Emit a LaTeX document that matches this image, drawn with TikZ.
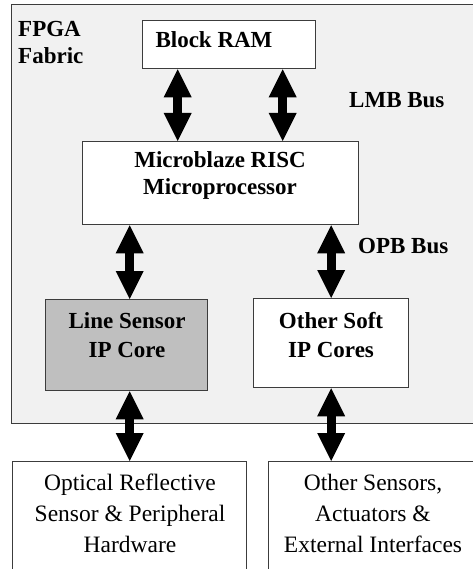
\documentclass[tikz,border=0pt]{standalone}
\usepackage{fontspec}
\setmainfont{Liberation Serif}
\usetikzlibrary{arrows.meta,calc}
\definecolor{fabricfill}{HTML}{F1F1F1}
\definecolor{corefill}{HTML}{BFBFBF}
\definecolor{edge}{HTML}{3C3C3C}
\tikzset{
  box/.style={draw=edge, line width=1.3pt, fill=white, inner sep=0pt, anchor=north west},
  bold/.style={font=\fontsize{23}{27}\selectfont\bfseries, inner sep=0pt, align=center},
  bold29/.style={font=\fontsize{23}{29}\selectfont\bfseries, inner sep=0pt, align=center},
  plain/.style={font=\fontsize{23.5}{31}\selectfont, inner sep=0pt, align=center},
  dblarrow/.style={line width=9pt,
    {Triangle[length=28pt,width=28pt,line width=0pt]}-{Triangle[length=28pt,width=28pt,line width=0pt]}},
}
\begin{document}
\begin{tikzpicture}[x=1pt,y=-1pt]
\useasboundingbox (0,0) rectangle (472,569);
% FPGA fabric
\node[box, fill=fabricfill, minimum width=480pt, minimum height=419pt] (fabric) at (11,4) {};
% boxes
\node[box, minimum width=173pt, minimum height=48pt] (ram) at (142,20) {};
\node[box, minimum width=276pt, minimum height=83pt] (micro) at (82,141) {};
\node[box, fill=corefill, minimum width=162pt, minimum height=91pt] (line) at (45,299) {};
\node[box, minimum width=155pt, minimum height=89pt] (soft) at (253,298) {};
\node[box, minimum width=234pt, minimum height=130pt] (optical) at (12,461) {};
\node[box, minimum width=220pt, minimum height=130pt] (others) at (268,461) {};
% texts (base anchor = baseline of the last line)
\node[bold, anchor=base west, align=left] (fpgatxt) at (18,64) {FPGA\\Fabric};
\node[bold, anchor=base] (ramtxt) at (214,48) {Block RAM};
\node[bold, anchor=base] (microtxt) at (220,194) {Microblaze RISC\\Microprocessor};
\node[bold, anchor=base west] (lmb) at (349,108) {LMB Bus};
\node[bold, anchor=base west] (opb) at (358,253) {OPB Bus};
\node[bold29, anchor=base] (linetxt) at (127,357) {Line Sensor\\IP Core};
\node[bold29, anchor=base] (softtxt) at (331,357) {Other Soft\\IP Cores};
\node[plain, anchor=base] (opttxt) at (130,552) {Optical Reflective\\Sensor \& Peripheral\\Hardware};
\node[plain, anchor=base] (othtxt) at (373,552) {Other Sensors,\\Actuators \&\\External Interfaces};
% arrow end points
\coordinate (r1) at ([xshift=-51.5pt]ram.south);
\coordinate (r2) at ([xshift=53.5pt]ram.south);
\coordinate (l1) at ([xshift=3pt]line.north);
\coordinate (l2) at ([xshift=3pt]line.south);
% arrows
\draw[dblarrow] (r1) -- (micro.north -| r1);
\draw[dblarrow] (r2) -- (micro.north -| r2);
\draw[dblarrow] (micro.south -| l1) -- (l1);
\draw[dblarrow] (micro.south -| soft.north) -- (soft.north);
\draw[dblarrow] (l2) -- (optical.north -| l2);
\draw[dblarrow] (soft.south) -- (others.north -| soft.south);
\end{tikzpicture}
\end{document}
